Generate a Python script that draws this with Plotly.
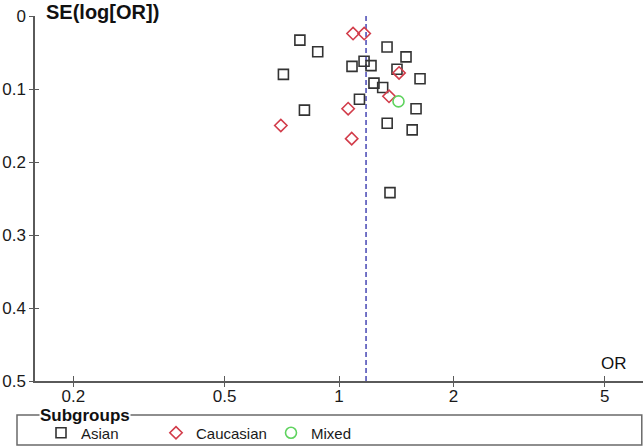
import plotly.graph_objects as go

# ---- data ----
asian_or = [0.789, 0.879, 0.714, 1.082, 1.164, 1.214, 1.338, 1.501, 1.421, 1.634,
            1.236, 1.303, 1.132, 0.811, 1.595, 1.339, 1.558, 1.362]
asian_se = [0.033, 0.049, 0.080, 0.069, 0.062, 0.068, 0.0425, 0.056, 0.073, 0.086,
            0.092, 0.098, 0.114, 0.129, 0.127, 0.147, 0.156, 0.242]

cauc_or = [1.089, 1.165, 1.439, 1.354, 1.057, 0.703, 1.080]
cauc_se = [0.024, 0.024, 0.078, 0.110, 0.127, 0.150, 0.168]

mixed_or = [1.434]
mixed_se = [0.117]

pooled_or = 1.178
se_range = [0.0, 0.5]

x_ticks = [0.2, 0.5, 1, 2, 5]
x_ticklabels = ["0.2", "0.5", "1", "2", "5"]
y_ticks = [0, 0.1, 0.2, 0.3, 0.4, 0.5]
y_ticklabels = ["0", "0.1", "0.2", "0.3", "0.4", "0.5"]

FONT = "Liberation Sans, Arial, sans-serif"
AXIS_COL = "#5a5a5a"

fig = go.Figure()

fig.add_trace(go.Scatter(
    x=[pooled_or, pooled_or], y=se_range, mode="lines",
    line=dict(color="#4646b4", width=1.5, dash="5px,3px"),
    showlegend=False, hoverinfo="skip"))

fig.add_trace(go.Scatter(
    x=asian_or, y=asian_se, mode="markers", name="Asian",
    marker=dict(symbol="square-open", size=10, color="#333333", line=dict(width=1.6))))
fig.add_trace(go.Scatter(
    x=cauc_or, y=cauc_se, mode="markers", name="Caucasian",
    marker=dict(symbol="diamond-open", size=9.5, color="#d23c4a", line=dict(width=1.6))))
fig.add_trace(go.Scatter(
    x=mixed_or, y=mixed_se, mode="markers", name="Mixed",
    marker=dict(symbol="circle-open", size=11, color="#5fd35f", line=dict(width=1.6))))

# invisible trace on overlay axes -> draws the inward half of the crossing ticks
fig.add_trace(go.Scatter(x=[pooled_or], y=[0.25], xaxis="x2", yaxis="y2",
                         mode="markers", marker=dict(opacity=0),
                         showlegend=False, hoverinfo="skip"))

xr = [-0.8, 0.8]
yr = [0.5, 0.0]
fig.update_layout(
    width=644, height=447,
    margin=dict(l=35, r=1, t=16, b=66, autoexpand=False),
    paper_bgcolor="white", plot_bgcolor="white",
    font=dict(family=FONT, color="#1a1a1a"),
    xaxis=dict(type="log", range=xr, tickvals=x_ticks, ticktext=x_ticklabels,
               automargin=False, ticklabelstandoff=-5,
               showgrid=False, zeroline=False, showline=True, linecolor=AXIS_COL,
               linewidth=1.5, ticks="outside", ticklen=4, tickcolor=AXIS_COL,
               tickwidth=1.3, tickfont=dict(size=17, family=FONT)),
    yaxis=dict(range=yr, tickvals=y_ticks, ticktext=y_ticklabels,
               automargin=False,
               showgrid=False, zeroline=False, showline=True, linecolor=AXIS_COL,
               linewidth=1.5, ticks="outside", ticklen=4, tickcolor=AXIS_COL,
               tickwidth=1.3, tickfont=dict(size=17, family=FONT)),
    xaxis2=dict(type="log", range=xr, overlaying="x", tickvals=x_ticks,
                automargin=False,
                showticklabels=False, showgrid=False, zeroline=False, showline=False,
                ticks="inside", ticklen=5, tickcolor=AXIS_COL, tickwidth=1.3),
    yaxis2=dict(range=yr, overlaying="y", tickvals=y_ticks,
                automargin=False,
                showticklabels=False, showgrid=False, zeroline=False, showline=False,
                ticks="inside", ticklen=4, tickcolor=AXIS_COL, tickwidth=1.3),
    showlegend=True,
    legend=dict(orientation="h", xref="container", yref="container",
                x=41 / 644, xanchor="left", y=(447 - 433) / 447, yanchor="middle",
                bgcolor="rgba(0,0,0,0)", font=dict(size=15, family=FONT),
                itemwidth=30, entrywidth=70, traceorder="normal"),
)

# legend frame
fig.add_shape(type="rect", xref="paper", yref="paper",
              x0=-0.0296, x1=0.998, y0=-0.1753, y1=-0.0932,
              line=dict(color="#6a6a6a", width=1.5), fillcolor="rgba(0,0,0,0)")

fig.add_annotation(text="<b>Subgroups</b>", xref="paper", yref="paper",
                   x=0.006, y=-0.0945, xanchor="left", yanchor="middle",
                   showarrow=False, bgcolor="white", borderpad=0,
                   font=dict(size=17, family=FONT, color="#111111"))

fig.add_annotation(text="<b>SE(log[OR])</b>", xref="paper", yref="paper",
                   x=0.014, y=1.01, xanchor="left", yanchor="middle",
                   showarrow=False, font=dict(size=20, family=FONT, color="#111111"))

fig.add_annotation(text="OR", xref="paper", yref="paper",
                   x=0.953, y=0.049, xanchor="center", yanchor="middle",
                   showarrow=False, font=dict(size=17, family=FONT, color="#111111"))

fig.write_html("out.html",
               config={"displayModeBar": False},
               post_script="document.body.style.margin='0px';"
                           "document.body.style.overflow='hidden';")
